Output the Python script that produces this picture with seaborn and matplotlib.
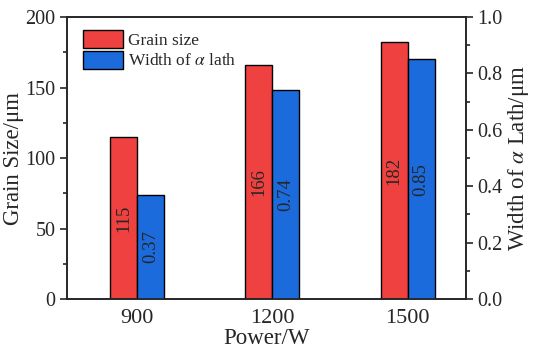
import numpy as np
import pandas as pd
import matplotlib
matplotlib.use("Agg")
import matplotlib.pyplot as plt
from matplotlib.patches import Patch
from matplotlib.ticker import MultipleLocator, FormatStrFormatter
import seaborn as sns

# data
powers = ["900", "1200", "1500"]
grain_size = [115, 166, 182]
lath_width = [0.37, 0.74, 0.85]

RED = "#F04141"
BLUE = "#1B6BDC"

sns.set_style("ticks")
plt.rcParams["font.family"] = ["Liberation Serif", "DejaVu Serif"]
plt.rcParams["mathtext.fontset"] = "stix"

idx = np.arange(len(powers))
df_grain = pd.DataFrame({"pos": idx - 0.1, "value": grain_size})
df_width = pd.DataFrame({"pos": idx + 0.1, "value": lath_width})

fig = plt.figure(figsize=(5.33, 3.54), dpi=100)
ax1 = fig.add_axes([0.126, 0.155, 0.748, 0.797])
ax2 = ax1.twinx()

sns.barplot(data=df_grain, x="pos", y="value", native_scale=True, width=0.2,
            color=RED, saturation=1, edgecolor="black", linewidth=1, ax=ax1)
sns.barplot(data=df_width, x="pos", y="value", native_scale=True, width=0.2,
            color=BLUE, saturation=1, edgecolor="black", linewidth=1, ax=ax2)

ax1.bar_label(ax1.containers[0], labels=[str(v) for v in grain_size],
              label_type="center", rotation=90, fontsize=13.5)
ax2.bar_label(ax2.containers[0], labels=[f"{v:.2f}" for v in lath_width],
              label_type="center", rotation=90, fontsize=13.5)

ax1.set_xlim(-0.517, 2.43)
ax1.set_xticks(idx)
ax1.set_xticklabels(powers)
ax1.tick_params(axis="x", length=0, pad=7, labelsize=16)
ax1.set_ylim(0, 200)
ax2.set_ylim(0, 1.0)
ax1.yaxis.set_major_locator(MultipleLocator(50))
ax1.yaxis.set_minor_locator(MultipleLocator(25))
ax2.yaxis.set_major_locator(MultipleLocator(0.2))
ax2.yaxis.set_minor_locator(MultipleLocator(0.1))
ax2.yaxis.set_major_formatter(FormatStrFormatter("%.1f"))

for ax in (ax1, ax2):
    ax.tick_params(axis="y", which="major", direction="out", length=5, width=1.2, labelsize=14.5)
    ax.tick_params(axis="y", which="minor", direction="out", length=3, width=1.2)
    for s in ax.spines.values():
        s.set_visible(True)
        s.set_linewidth(1.2)

ax1.set_xlabel("Power/W", fontsize=16.5, labelpad=0)
ax1.set_ylabel("Grain Size/μm", fontsize=16.5, labelpad=1)
ax2.set_ylabel(r"Width of $\alpha$ Lath/μm", fontsize=16.5, labelpad=2)

handles = [Patch(facecolor=RED, edgecolor="black", label="Grain size"),
           Patch(facecolor=BLUE, edgecolor="black", label=r"Width of $\alpha$ lath")]
ax1.legend(handles=handles, loc="upper left", bbox_to_anchor=(0.013, 0.99),
           frameon=False, fontsize=12.5, handlelength=2.3, handleheight=1.2,
           labelspacing=0.1, handletextpad=0.3, borderaxespad=0.2)

fig.savefig("out.png", dpi=100)
